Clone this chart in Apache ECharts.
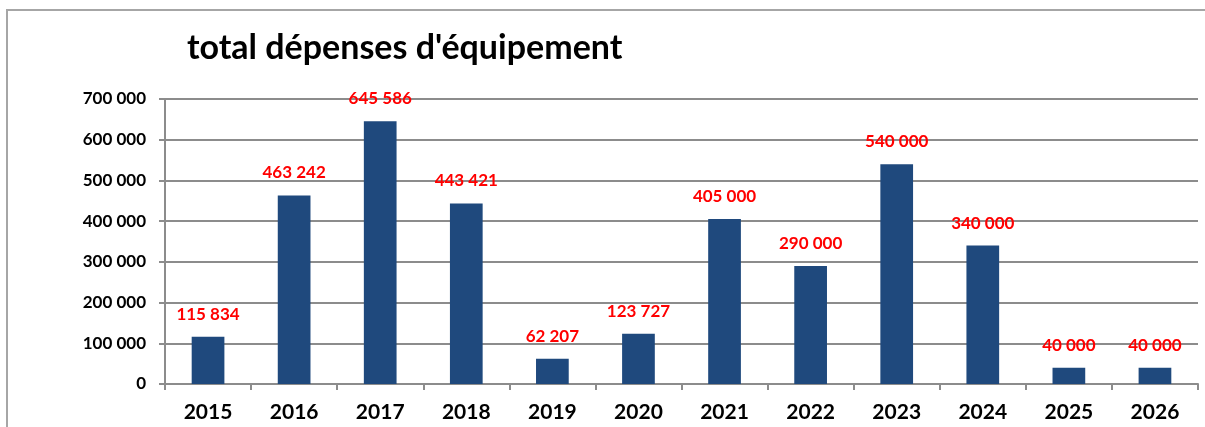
<!DOCTYPE html>
<html>
<head>
<meta charset="utf-8">
<script src="https://cdn.jsdelivr.net/npm/echarts@6/dist/echarts.min.js"></script>
<style>
  html, body { margin: 0; padding: 0; background: #fff; }
  #chart { width: 1205px; height: 427px; }
</style>
</head>
<body>
<div id="chart"></div>
<script>
// données
const years = ['2015', '2016', '2017', '2018', '2019', '2020', '2021', '2022', '2023', '2024', '2025', '2026'];
const depenses = [115834, 463242, 645586, 443421, 62207, 123727, 405000, 290000, 540000, 340000, 40000, 40000];
const yTicks = [0, 100000, 200000, 300000, 400000, 500000, 600000, 700000];

const fontFamily = 'Lato, "Open Sans", sans-serif';

// format français : espace comme séparateur de milliers
const fmt = (v) => String(v).replace(/\B(?=(\d{3})+(?!\d))/g, ' ');

const chart = echarts.init(document.getElementById('chart'));

chart.setOption({
  animation: false,
  title: {
    text: "total dépenses d'équipement",
    left: 182,
    top: 26,
    textStyle: { fontFamily, fontSize: 34, fontWeight: 'bold', color: '#000' }
  },
  graphic: [
    {
      type: 'rect',
      shape: { x: 7, y: 10, width: 1260, height: 500 },
      style: { fill: 'none', stroke: '#a6a6a6', lineWidth: 2 },
      silent: true
    }
  ],
  grid: { left: 165, right: 7, top: 99, bottom: 43 },
  xAxis: {
    type: 'category',
    data: years,
    axisLine: { lineStyle: { color: '#8c8c8c', width: 2 } },
    axisTick: { show: true, alignWithLabel: false, length: 6, lineStyle: { color: '#8c8c8c', width: 2 } },
    axisLabel: { fontFamily, fontSize: 21, fontWeight: 'bold', color: '#000', margin: 18 }
  },
  yAxis: {
    type: 'value',
    min: yTicks[0],
    max: yTicks[yTicks.length - 1],
    interval: 100000,
    axisLine: { show: true, lineStyle: { color: '#8c8c8c', width: 2 } },
    axisTick: { show: true, length: 6, lineStyle: { color: '#8c8c8c', width: 2 } },
    axisLabel: { fontFamily, fontSize: 17, fontWeight: 'bold', color: '#000', margin: 19, formatter: fmt },
    splitLine: { lineStyle: { color: '#8c8c8c', width: 2 } }
  },
  series: [
    {
      type: 'bar',
      data: depenses,
      barWidth: '38%',
      itemStyle: { color: '#1f497d' },
      label: {
        show: true,
        position: 'top',
        distance: 14,
        fontFamily,
        fontSize: 17,
        fontWeight: 'bold',
        color: '#ff0000',
        formatter: (p) => fmt(p.value)
      }
    }
  ]
});
</script>
</body>
</html>
